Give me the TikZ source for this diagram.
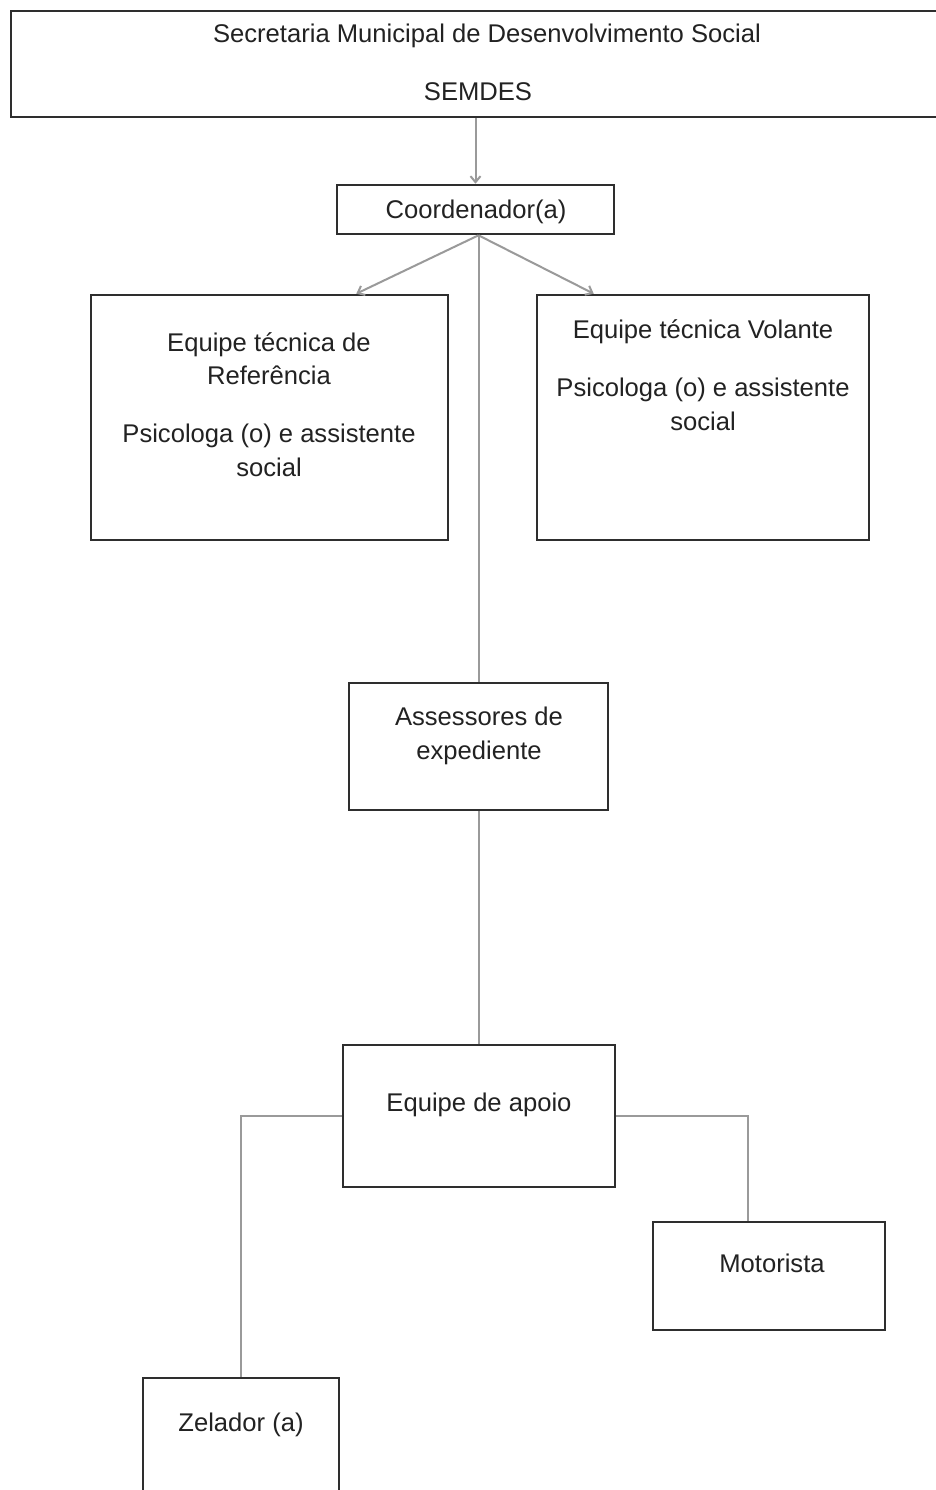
\documentclass[tikz,border=0pt]{standalone}
\usepackage{fontspec}
\setmainfont{Liberation Sans}
\usetikzlibrary{arrows.meta,fit,calc}
\definecolor{boxc}{HTML}{2E2E2E}
\definecolor{linec}{HTML}{9A9A9A}
\definecolor{txtc}{HTML}{222222}
\begin{document}
\begin{tikzpicture}[x=0.5pt,y=-0.5pt,
  box/.style={draw=boxc, line width=1.3pt, inner sep=0pt},
  conn/.style={draw=linec, line width=1pt},
  arr/.style={conn, -{Straight Barb[length=3pt,width=5pt]}},
  lbl/.style={anchor=base, inner sep=0pt, font=\fontsize{12.8}{15}\selectfont, text=txtc}]
\useasboundingbox (0,0) rectangle (936,1490);
\clip (0,0) rectangle (936,1490);
\fill[white] (0,0) rectangle (936,1490);
% boxes
\node[box, fit={(11,11) (950,117)}] (sem) {};
\node[box, fit={(337,185) (614,234)}] (coord) {};
\node[box, fit={(91,295) (448,540)}] (ref) {};
\node[box, fit={(537,295) (869,540)}] (vol) {};
\node[box, fit={(349,683) (608,810)}] (ass) {};
\node[box, fit={(343,1045) (615,1187)}] (apo) {};
\node[box, fit={(653,1222) (885,1330)}] (mot) {};
\node[box, fit={(143,1378) (339,1510)}] (zel) {};
% connectors
\draw[arr] (coord.north |- sem.south) -- (coord.north);
\draw[conn] (ass.north |- coord.south) -- (ass.north);
\draw[arr] (ass.north |- coord.south) -- ($(ref.north east)+(-93,0)$);
\draw[arr] (ass.north |- coord.south) -- ($(vol.north west)+(58,0)$);
\draw[conn] (ass.south) -- (ass.south |- apo.north);
\draw[conn] (apo.west) -| (zel.north);
\draw[conn] (apo.east) -| ($(mot.north)+(-21,0)$);
% texts
\node[lbl] (t1) at (487,42) {Secretaria Municipal de Desenvolvimento Social};
\node[lbl] (t2) at (478,100) {SEMDES};
\node[lbl] (t3) at (476,218) {Coordenador(a)};
\node[lbl] (t4) at (269,351) {Equipe técnica de};
\node[lbl] (t5) at (269,384) {Referência};
\node[lbl] (t6) at (269,442) {Psicologa (o) e assistente};
\node[lbl] (t7) at (269,476) {social};
\node[lbl] (t8) at (703,338) {Equipe técnica Volante};
\node[lbl] (t9) at (703,396) {Psicologa (o) e assistente};
\node[lbl] (t10) at (703,430) {social};
\node[lbl] (t11) at (479,725) {Assessores de};
\node[lbl] (t12) at (479,759) {expediente};
\node[lbl] (t13) at (479,1111) {Equipe de apoio};
\node[lbl] (t14) at (772,1272) {Motorista};
\node[lbl] (t15) at (241,1431) {Zelador (a)};
\end{tikzpicture}
\end{document}
